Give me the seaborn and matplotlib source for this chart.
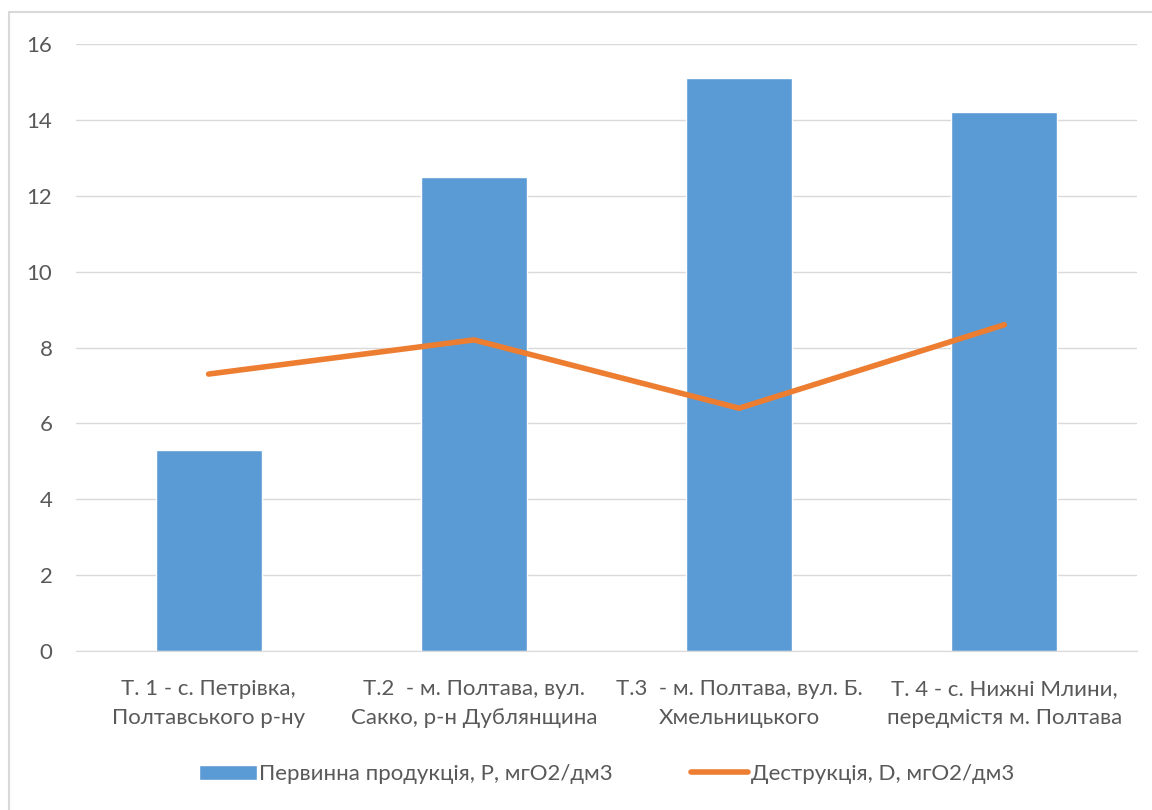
import pandas as pd
import matplotlib.pyplot as plt
import seaborn as sns
from matplotlib.patches import Rectangle

# Data
categories = [
    "Т. 1 - с. Петрівка,\nПолтавського р-ну",
    "Т.2  - м. Полтава, вул.\nСакко, р-н Дублянщина",
    "Т.3  - м. Полтава, вул. Б.\nХмельницького",
    "Т. 4 - с. Нижні Млини,\nпередмістя м. Полтава",
]
production = [5.3, 12.5, 15.1, 14.2]
destruction = [7.3, 8.2, 6.4, 8.6]
bar_label = "Первинна продукція, P, мгО2/дм3"
line_label = "Деструкція, D, мгО2/дм3"

data = pd.DataFrame({"point": categories, "P": production, "D": destruction})

sns.set_style("white")
plt.rcParams["font.family"] = ["Lato", "DejaVu Sans"]
text_color = "#595959"

fig = plt.figure(figsize=(11.52, 8.1), dpi=100)
ax = fig.add_axes([76 / 1152, 1 - 651 / 810, (1137 - 76) / 1152, (651 - 44) / 810])

# outer chart frame
fig.patches.append(Rectangle((9 / 1152, -0.01), 1.1, 1 - 12 / 810 + 0.01,
                             transform=fig.transFigure, fill=False,
                             edgecolor="#d9d9d9", linewidth=1.5))

sns.barplot(data=data, x="point", y="P", color="#5b9bd5", width=0.4,
            saturation=1, ax=ax, label=bar_label, zorder=2)
sns.lineplot(x=range(len(categories)), y=destruction, color="#ed7d31",
             linewidth=4, ax=ax, label=line_label, zorder=3,
             solid_capstyle="round")

ax.set_ylim(0, 16)
ax.set_xlim(-0.5, 3.5)
ax.set_yticks(range(0, 17, 2))
ax.yaxis.grid(True, color="#d9d9d9", linewidth=1)
ax.set_axisbelow(True)
for side in ["top", "right", "left"]:
    ax.spines[side].set_visible(False)
ax.spines["bottom"].set_color("#d9d9d9")
ax.tick_params(axis="both", length=0, labelsize=16, colors=text_color)
ax.tick_params(axis="y", pad=17)
ax.tick_params(axis="x", pad=20)
ax.set_xlabel("")
ax.set_ylabel("")
for lbl in ax.get_xticklabels():
    lbl.set_linespacing(1.55)

handles, labels = ax.get_legend_handles_labels()
order = [labels.index(bar_label), labels.index(line_label)]
ax.legend([handles[i] for i in order], [labels[i] for i in order],
          loc="center", bbox_to_anchor=(0.5, -0.203), ncol=2, frameon=False,
          fontsize=16, labelcolor=text_color, handlelength=2.6,
          handletextpad=0.1, columnspacing=3.5)

fig.savefig("out.png", dpi=100)
